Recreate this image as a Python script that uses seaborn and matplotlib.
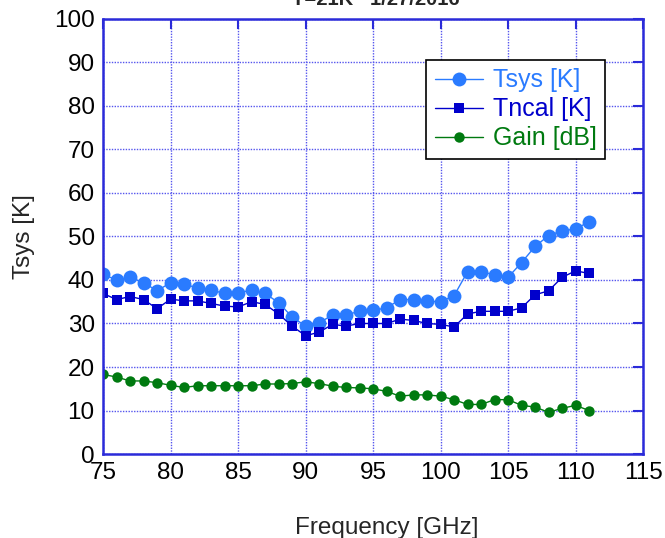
import pandas as pd
import matplotlib
matplotlib.use("Agg")
import matplotlib.pyplot as plt
import seaborn as sns

# Data
freq = list(range(75, 112))
tsys = [41.3, 40.0, 40.6, 39.4, 37.5, 39.4, 39.0, 38.2, 37.7, 36.9,
        36.9, 37.8, 36.9, 34.8, 31.5, 29.4, 30.1, 32.0, 32.0, 32.8,
        33.0, 33.6, 35.5, 35.5, 35.1, 35.0, 36.4, 41.9, 41.9, 41.2,
        40.6, 44.0, 47.7, 50.2, 51.3, 51.7, 53.4]
tncal = [36.9, 35.5, 36.2, 35.5, 33.4, 35.6, 35.2, 35.2, 34.6, 34.0,
         33.8, 35.0, 34.4, 32.2, 29.4, 27.2, 28.0, 29.8, 29.4, 30.0,
         30.0, 30.0, 31.0, 30.7, 30.0, 29.8, 29.2, 32.2, 32.8, 32.8,
         32.8, 33.6, 36.6, 37.5, 40.6, 42.1, 41.5]
gain = [18.3, 17.7, 16.8, 16.8, 16.4, 15.8, 15.3, 15.7, 15.7, 15.7,
        15.7, 15.7, 16.1, 16.1, 16.2, 16.6, 16.2, 15.6, 15.3, 15.2,
        15.0, 14.4, 13.3, 13.6, 13.6, 13.3, 12.5, 11.4, 11.4, 12.5,
        12.5, 11.2, 10.8, 9.6, 10.5, 11.2, 10.0]

x_ticks = list(range(75, 120, 5))
y_ticks = list(range(0, 110, 10))

sns.set_style("white")
plt.rcParams['font.family'] = ['Liberation Sans', 'DejaVu Sans']

axis_blue = "#2b2bd9"
c_tsys = "#2a7bff"
c_tncal = "#0000cc"
c_gain = "#007a10"

fig = plt.figure(figsize=(6.65, 5.38), dpi=100)
ax = fig.add_axes([0.155, 0.156, 0.812, 0.809])

sns.lineplot(x=freq, y=tsys, ax=ax, color=c_tsys, marker="o", markersize=10,
             markeredgewidth=0, linewidth=1, label="Tsys [K]")
sns.lineplot(x=freq, y=tncal, ax=ax, color=c_tncal, marker="s", markersize=7.5,
             markeredgewidth=0, linewidth=1, label="Tncal [K]")
sns.lineplot(x=freq, y=gain, ax=ax, color=c_gain, marker="o", markersize=7.5,
             markeredgewidth=0, linewidth=1, label="Gain [dB]")

ax.set_xlim(75, 115)
ax.set_ylim(0, 100)
ax.set_xticks(x_ticks)
ax.set_yticks(y_ticks)
ax.grid(True, color="#5555ee", linestyle=(0, (1, 1)), linewidth=1)
for s in ax.spines.values():
    s.set_color(axis_blue)
    s.set_linewidth(1.8)
ax.tick_params(direction="in", length=7, width=1.5, color=axis_blue,
               top=True, right=True, labelsize=17.5, labelcolor="black", pad=6)

ax.set_xlabel("Frequency [GHz]", fontsize=17.5)
ax.xaxis.set_label_coords(0.525, -0.145)
ax.set_ylabel("Tsys [K]", fontsize=17.5, labelpad=14)

leg = ax.legend(loc="upper right", bbox_to_anchor=(0.93, 0.906), fontsize=18,
                borderaxespad=0, frameon=True, fancybox=False, framealpha=1,
                edgecolor="black", labelcolor="linecolor", handlelength=1.9,
                borderpad=0.35, labelspacing=0.2, handletextpad=0.4)
leg.get_frame().set_linewidth(1.2)

fig.text(376 / 665, 1 - 5 / 538, "T=21K   1/27/2016", ha="center", va="baseline",
         fontsize=14.5, fontweight="bold")

fig.savefig("out.png", dpi=100)
